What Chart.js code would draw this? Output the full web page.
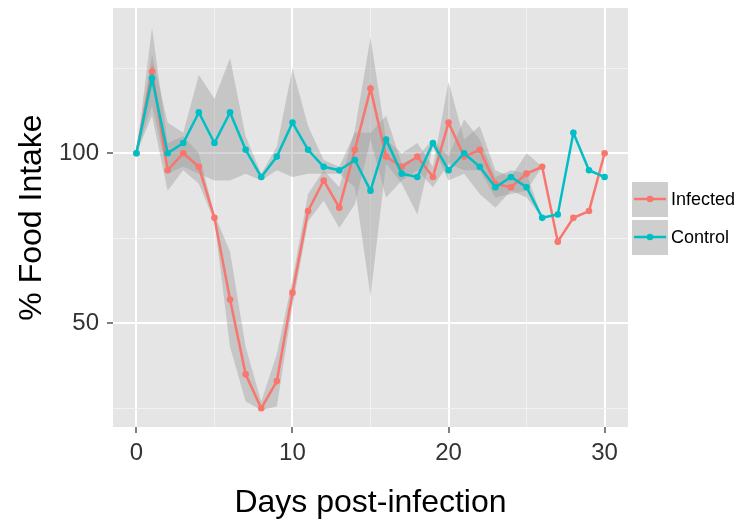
<!DOCTYPE html>
<html>
<head>
<meta charset="utf-8">
<script src="https://cdn.jsdelivr.net/npm/chart.js@4"></script>
<style>
  html, body { margin: 0; padding: 0; background: #ffffff; }
  #wrap { width: 738px; height: 525px; }
</style>
</head>
<body>
<div id="wrap"><canvas id="c" width="738" height="525"></canvas></div>
<script>
// ---- data ----
const days = [0,1,2,3,4,5,6,7,8,9,10,11,12,13,14,15,16,17,18,19,20,21,22,23,24,25,26,27,28,29,30];
const infected = [100,124,95,100,96,81,57,35,25,33,59,83,92,84,101,119,99,96,99,93,109,99,101,91,90,94,96,74,81,83,100];
const control  = [100,122,100,103,112,103,112,101,93,99,109,101,96,95,98,89,104,94,93,103,95,100,96,90,93,90,81,82,106,95,93];
// ribbon bounds (days 0..26)
const infectedUpper = [100,137,103,105,100,82,71,43,27,41,63,88,95,90,107,134,104,100,103,96,121,104,108,95,93,100,96];
const infectedLower = [100,111,89,95,91,80,43,27,24.5,25.5,55,80,86,78,85,104,87,92,95,90,97,95,95,87,88,89,96];
const controlUpper  = [100,129,109,106,123,116,128,105,94,102,125,108,98,96,106,106,111,97,99,104,99,110,104,93,95,94,81];
const controlLower  = [100,114,94,96,94,92,92,94,92,95,93,94,94,94,90,58,97,91,82,102,92,94,88,84,89,87,81];
const seriesNames = ['Infected', 'Control'];
const xTicks = [0,5,10,15,20,25,30];
const xLabelled = [0,10,20,30];
const yTicks = [25,50,75,100,125];
const yLabelled = [50,100];

const RED = '#F8766D', TEAL = '#00BFC4';
const RIBBON = 'rgba(153,153,153,0.4)';
const FONT = "'Liberation Sans', Arial, Helvetica, sans-serif";

const xy = arr => arr.map((v, i) => ({x: days[i], y: v}));

const bgPlugin = {
  id: 'bg',
  beforeDraw(chart) {
    const {ctx, chartArea: a} = chart;
    ctx.save();
    ctx.fillStyle = '#ffffff';
    ctx.fillRect(0, 0, chart.width, chart.height);
    ctx.fillStyle = '#E5E5E5';
    ctx.fillRect(a.left, a.top, a.right - a.left, a.bottom - a.top);
    ctx.restore();
  }
};

const legendPlugin = {
  id: 'ggLegend',
  afterDraw(chart) {
    const ctx = chart.ctx;
    const items = [
      {label: seriesNames[0], color: RED, cy: 199},
      {label: seriesNames[1], color: TEAL, cy: 237}
    ];
    ctx.save();
    items.forEach(it => {
      const x0 = 631, w = 38, h = 37, y0 = it.cy - 18;
      ctx.fillStyle = '#F2F2F2';
      ctx.fillRect(x0, y0, w, h);
      ctx.fillStyle = RIBBON;
      ctx.fillRect(x0, y0, w, h);
      ctx.strokeStyle = '#FFFFFF';
      ctx.lineWidth = 1;
      ctx.strokeRect(x0 + 0.5, y0 + 0.5, w - 1, h - 1);
      ctx.strokeStyle = it.color;
      ctx.lineWidth = 2.5;
      ctx.beginPath();
      ctx.moveTo(x0 + 3, it.cy);
      ctx.lineTo(x0 + w - 3, it.cy);
      ctx.stroke();
      ctx.fillStyle = it.color;
      ctx.beginPath();
      ctx.arc(x0 + w / 2, it.cy, 3.3, 0, Math.PI * 2);
      ctx.fill();
      ctx.fillStyle = '#000000';
      ctx.font = '18px ' + FONT;
      ctx.textBaseline = 'middle';
      ctx.textAlign = 'left';
      ctx.fillText(it.label, 671, it.cy + 1);
    });
    ctx.restore();
  }
};

const lineDs = (label, data, color, order) => ({
  label, data: xy(data), borderColor: color, backgroundColor: color,
  borderWidth: 2.5, pointRadius: 3.3, pointBorderWidth: 0, pointBackgroundColor: color,
  tension: 0, fill: false, order
});
const edgeDs = (label, data, fill) => ({
  label, data: xy(data), borderWidth: 0, pointRadius: 0, borderColor: 'rgba(0,0,0,0)',
  backgroundColor: RIBBON, tension: 0, fill, order: 2
});

new Chart(document.getElementById('c'), {
  type: 'line',
  data: {
    datasets: [
      lineDs(seriesNames[1], control, TEAL, 0),
      lineDs(seriesNames[0], infected, RED, 1),
      edgeDs('inf-lo', infectedLower, false),
      edgeDs('inf-hi', infectedUpper, '-1'),
      edgeDs('ctl-lo', controlLower, false),
      edgeDs('ctl-hi', controlUpper, '-1')
    ]
  },
  options: {
    responsive: false,
    animation: false,
    events: [],
    devicePixelRatio: 1,
    layout: { padding: {top: 8, right: 110, bottom: 0, left: 0} },
    plugins: { legend: {display: false}, tooltip: {enabled: false} },
    scales: {
      x: {
        type: 'linear', min: -1.5, max: 31.5,
        afterBuildTicks: s => { s.ticks = xTicks.map(v => ({value: v})); },
        afterFit: s => { s.height = 98; s.paddingLeft = 0; s.paddingRight = 0; },
        border: {display: false},
        grid: {
          color: c => xLabelled.includes(c.tick && c.tick.value) ? '#FFFFFF' : '#F2F2F2',
          lineWidth: c => xLabelled.includes(c.tick && c.tick.value) ? 2 : 1,
          tickColor: c => xLabelled.includes(c.tick && c.tick.value) ? '#7F7F7F' : 'rgba(0,0,0,0)',
          tickLength: 6, tickWidth: 2
        },
        ticks: {
          autoSkip: false, maxRotation: 0, padding: 6,
          color: '#333333', font: {size: 24, family: FONT},
          callback: v => xLabelled.includes(v) ? String(v) : ''
        },
        title: {
          display: true, text: 'Days post-infection', color: '#000000',
          font: {size: 32, family: FONT}, padding: {top: 0, bottom: 3}
        }
      },
      y: {
        type: 'linear', min: 19.5, max: 142.7,
        afterBuildTicks: s => { s.ticks = yTicks.map(v => ({value: v})); },
        afterFit: s => { s.width = 113; s.paddingTop = 0; s.paddingBottom = 0; },
        border: {display: false},
        grid: {
          color: c => yLabelled.includes(c.tick && c.tick.value) ? '#FFFFFF' : '#F2F2F2',
          lineWidth: c => yLabelled.includes(c.tick && c.tick.value) ? 2 : 1,
          tickColor: c => yLabelled.includes(c.tick && c.tick.value) ? '#7F7F7F' : 'rgba(0,0,0,0)',
          tickLength: 6, tickWidth: 2
        },
        ticks: {
          autoSkip: false, padding: 8,
          color: '#333333', font: {size: 24, family: FONT},
          callback: v => yLabelled.includes(v) ? String(v) : ''
        },
        title: {
          display: true, text: '% Food Intake', color: '#000000',
          font: {size: 32, family: FONT}, padding: {top: 13, bottom: 0}
        }
      }
    }
  },
  plugins: [bgPlugin, legendPlugin]
});
</script>
</body>
</html>
